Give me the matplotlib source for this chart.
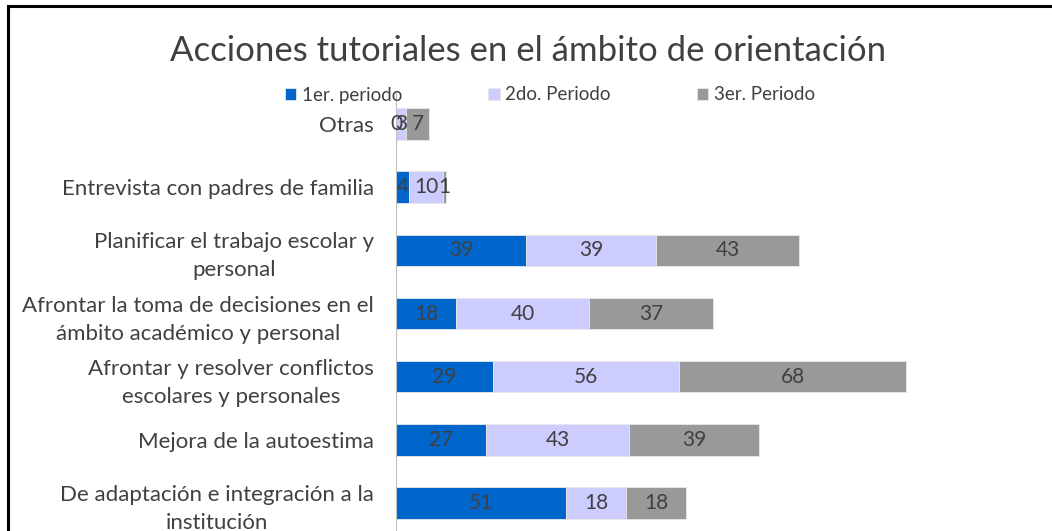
import matplotlib
matplotlib.use("Agg")
from matplotlib import pyplot as plt
from matplotlib.patches import Rectangle
import numpy as np

plt.rcParams['font.family'] = ['Lato', 'DejaVu Sans']

categories = [
    "Otras",
    "Entrevista con padres de familia",
    "Planificar el trabajo escolar y\npersonal",
    "Afrontar la toma de decisiones en el\námbito académico y personal",
    "Afrontar y resolver conflictos\nescolares y personales",
    "Mejora de la autoestima",
    "De adaptación e integración a la\ninstitución",
]
periodo1 = [0, 4, 39, 18, 29, 27, 51]
periodo2 = [3, 10, 39, 40, 56, 43, 18]
periodo3 = [7, 1, 43, 37, 68, 39, 18]
series_names = ["1er. periodo", "2do. Periodo", "3er. Periodo"]
colors = ["#0066CC", "#CCCCFF", "#999999"]
text_color = "#404040"

fig = plt.figure(figsize=(10.52, 5.31), dpi=100)
ax = fig.add_axes([396 / 1052, -3.5 / 531, 600 / 1052, 442 / 531])

y = np.arange(len(categories))
left = np.zeros(len(categories))
for name, vals, col in zip(series_names, [periodo1, periodo2, periodo3], colors):
    vals = np.array(vals)
    ax.barh(y, vals, left=left, height=0.5, color=col, label=name,
            edgecolor="#E8E8E8", linewidth=0.6)
    for yi, l, v in zip(y, left, vals):
        ax.text(l + v / 2, yi, str(v), ha="center", va="center",
                fontsize=15, color=text_color)
    left = left + vals

ax.set_xlim(0, 180)
ax.set_ylim(len(categories) - 0.5, -0.5)
ax.set_yticks(y)
ax.set_yticklabels(categories, fontsize=16, color=text_color,
                   multialignment="center", linespacing=1.5)
ax.tick_params(axis="y", length=0, pad=16)
ax.set_xticks([])
for s in ["top", "right", "bottom"]:
    ax.spines[s].set_visible(False)
ax.spines["left"].set_color("#BFBFBF")

fig.text(528 / 1052, 1 - 51 / 531, "Acciones tutoriales en el ámbito de orientación",
         ha="center", va="center", fontsize=25, color=text_color)
fig.legend(loc="center", bbox_to_anchor=(550 / 1052, 1 - 95 / 531), ncol=3,
           frameon=False, fontsize=13.5, handlelength=0.6, handleheight=0.6,
           handletextpad=0.3, columnspacing=4.6, labelcolor=text_color)

fig.patches.append(Rectangle((8 / 1052, -0.1), 1.2, 1 - 6 / 531 + 0.1,
                             transform=fig.transFigure, fill=False,
                             edgecolor="black", linewidth=2.2))

fig.savefig("out.png", dpi=100)
plt.close()
